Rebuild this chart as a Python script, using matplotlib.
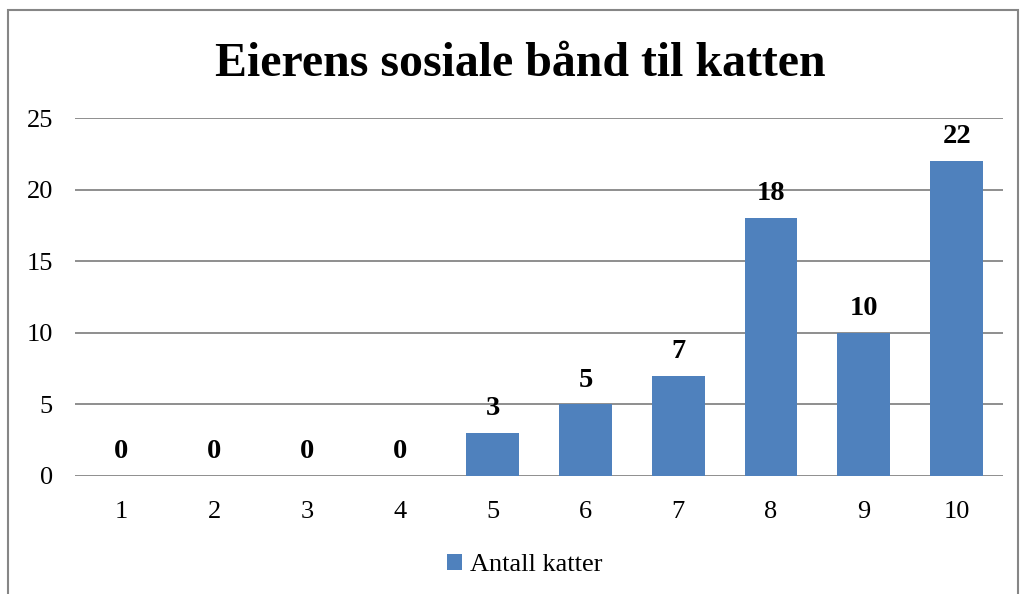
import matplotlib.pyplot as plt
from matplotlib.patches import Rectangle

categories = ['1', '2', '3', '4', '5', '6', '7', '8', '9', '10']
antall_katter = [0, 0, 0, 0, 3, 5, 7, 18, 10, 22]
title = 'Eierens sosiale bånd til katten'
series_name = 'Antall katter'

plt.rcParams['font.family'] = ['Liberation Serif', 'DejaVu Serif']

fig = plt.figure(figsize=(10.21, 5.94), dpi=100)
ax = fig.add_axes([0.0735, 0.1987, 0.9089, 0.6026])

x = list(range(len(categories)))
bars = ax.bar(x, antall_katter, width=0.57, color='#4F81BD', label=series_name, zorder=3)
for xi, v in zip(x, antall_katter):
    ax.annotate(str(v), (xi, v), xytext=(0, 8.5), textcoords='offset points',
                ha='center', va='bottom', fontsize=20.5, fontweight='bold')

ax.set_xlim(-0.5, len(categories) - 0.5)
ax.set_ylim(0, 25)
ax.set_yticks([0, 5, 10, 15, 20, 25])
ax.set_xticks(x)
ax.set_xticklabels(categories)
ax.tick_params(axis='both', length=0, labelsize=19)
ax.tick_params(axis='y', pad=16)
ax.tick_params(axis='x', pad=18)
ax.grid(axis='y', color='#868686', linewidth=1.3, zorder=0)
for s in ax.spines.values():
    s.set_visible(False)

fig.text(0.51, 0.893, title, ha='center', va='center', fontsize=34.5, fontweight='bold')

fig.legend(loc='center', bbox_to_anchor=(0.514, 0.049), frameon=False, fontsize=19,
           handlelength=0.55, handleheight=0.55, handletextpad=0.3)

fig.patches.append(Rectangle((8 / 1021, -0.05), 1010 / 1021, 1 - 10 / 594 + 0.05,
                             transform=fig.transFigure, fill=False,
                             edgecolor='#868686', linewidth=1.5))

fig.savefig('out.png', dpi=100)
